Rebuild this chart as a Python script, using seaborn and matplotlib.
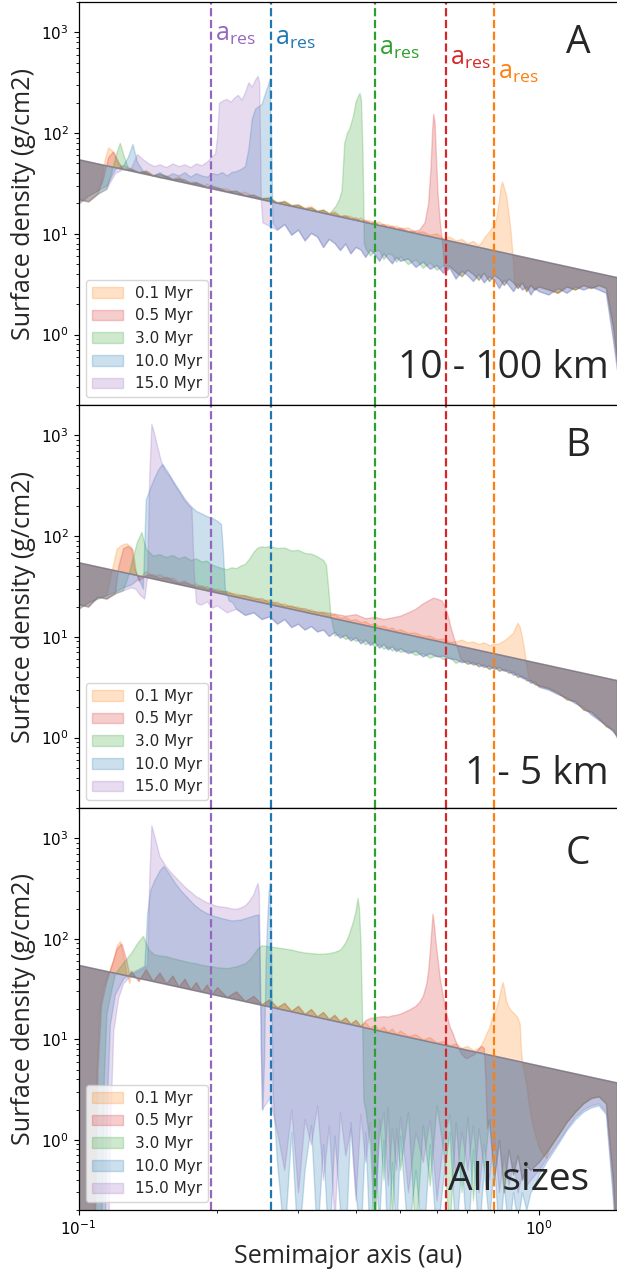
import numpy as np
import matplotlib
matplotlib.use("Agg")
import matplotlib.pyplot as plt
import seaborn as sns

# ---------------- data ----------------
TIMES = ["0.1 Myr", "0.5 Myr", "3.0 Myr", "10.0 Myr", "15.0 Myr"]
PALETTE_IDX = [1, 3, 2, 0, 4]          # tab10: orange, red, green, blue, purple
A_RES = [0.801, 0.629, 0.440, 0.262, 0.194]   # resonance location for each time (au)
PANEL_TAGS = ["A", "B", "C"]
PANEL_SIZES = ["10 - 100 km", "1 - 5 km", "All sizes"]

# initial power-law disc profile: Sigma = SIGMA_1AU * a**SIGMA_POWER
SIGMA_1AU = 5.5
SIGMA_POWER = -1.0

# common sampling grid (au)
G = [0.100, 0.105, 0.110, 0.115, 0.120, 0.125, 0.130, 0.135, 0.140, 0.145,
     0.150, 0.155, 0.160, 0.165, 0.170, 0.175, 0.180, 0.185, 0.190, 0.195,
     0.20, 0.21, 0.22, 0.23, 0.24, 0.25, 0.26, 0.27, 0.28, 0.29,
     0.30, 0.31, 0.32, 0.33, 0.34, 0.35, 0.36, 0.37, 0.38, 0.39,
     0.40, 0.41, 0.42, 0.43, 0.44, 0.45, 0.46, 0.47, 0.48, 0.49,
     0.50, 0.52, 0.54, 0.56, 0.58, 0.60, 0.62, 0.64, 0.66, 0.68,
     0.70, 0.72, 0.74, 0.76, 0.78, 0.80, 0.82, 0.84, 0.86, 0.88,
     0.90, 0.92, 0.94, 0.96, 0.98, 1.00, 1.05, 1.10, 1.15, 1.20,
     1.25, 1.30, 1.35, 1.40, 1.45, 1.48]

# ---- Panel A (10 - 100 km) backgrounds ----
A_NEAR_START = 0.100
A_NEAR = [20, 24, 27, 30, 44, 48, 45, 41, 43, 39,
          36, 38.3, 35, 37.3, 32.4, 33, 32.7, 29.5, 31.5, 28.8,
          28.6, 28.3, 25, 26.3, 23.4, 22.9, 22.9, 20.2, 21.4, 19.4,
          19.6, 18.2, 18.9, 16.9, 17.3, 16.2, 16.8, 15.1, 15.2, 15.1,
          13.8, 14.6, 13.4, 13.7, 12.7, 13.3, 12.2, 12.5, 11.7, 12.1,
          11.3, 11.6, 10.4, 10.6, 9.8, 10.1, 9.1, 9.4, 8.6, 8.9,
          8.1, 8.5, 7.7, 8.0, 7.4, 7.7, 7.0, 7.2]
A_NEAR2_START = 0.100
A_NEAR2 = [22, 21, 25, 28, 40, 44, 44, 41, 42, 38,
           39.5, 37.5, 35, 35.5, 34.5, 32, 32.5, 31, 29, 30,
           29, 26.5, 26.8, 24, 24.5, 22.5, 22.8, 20.6, 21, 19.2,
           19.5, 17.9, 18.3, 16.9, 17.4, 15.9, 16.2, 15.1, 15.3, 14.3,
           14.6, 13.5, 13.8, 12.9, 13.3, 12.3, 12.6, 11.8, 12.1, 11.3,
           11.6, 10.7, 10.8]
A_LOW_START = 0.24
A_LOW = [13, 12.5, 12, 11, 12.5, 9.8,
         11, 8.6, 10.2, 9.4, 7.4, 8.9, 8.1, 6.9, 8.0, 6.4,
         7.4, 7.0, 5.9, 7.0, 6.3, 5.4, 6.4, 5.7, 5.1, 5.9,
         5.4, 5.7, 4.7, 5.3, 4.5, 4.9, 4.1, 4.6, 3.6, 4.3,
         3.9, 3.4, 4.0, 3.3, 3.8, 3.5, 2.9, 3.5, 3.1, 2.7,
         3.2, 2.8, 3.0, 2.5, 2.9, 2.7, 2.5, 2.9, 2.6, 3.0,
         2.8, 3.0, 2.8, 2.6, 0.9, 0.45]
A_LOW2_START = 0.42
A_LOW2 = [7.2, 6.1, 6.8, 6.9, 5.6, 6.4, 6.2, 5.3,
          6.0, 5.0, 5.6, 4.6, 5.2, 4.4, 4.9, 4.8, 4.2, 3.8,
          4.4, 4.0, 3.5, 4.1, 3.4, 3.9, 3.6, 3.1, 3.6, 3.3,
          2.9, 3.3, 2.7, 3.1, 2.8, 3.0, 2.8, 2.6, 3.0, 2.8,
          3.1, 2.9, 3.1, 2.9, 1.2, 0.55]

A_OR_X1 = [0.112, 0.114, 0.116, 0.118, 0.120, 0.122, 0.124]
A_OR_Y1 = [33, 55, 72, 68, 58, 50, 47]
A_OR_X2 = [0.75, 0.765, 0.78, 0.79, 0.80, 0.81, 0.82, 0.827, 0.833, 0.84, 0.85, 0.86, 0.87, 0.878, 0.885]
A_OR_Y2 = [8.2, 9.5, 10.5, 11.5, 12, 15, 22, 30, 33, 29, 24, 16, 10, 6, 3.2]
A_RD_X1 = [0.113, 0.116, 0.119, 0.122, 0.124]
A_RD_Y1 = [35, 58, 66, 52, 46]
A_RD_X2 = [0.55, 0.565, 0.575, 0.582, 0.587, 0.59, 0.594, 0.598, 0.603, 0.61, 0.617, 0.623]
A_RD_Y2 = [11, 13, 20, 45, 110, 155, 130, 60, 25, 13, 8, 4.3]
A_GR_X1 = [0.118, 0.121, 0.123, 0.125, 0.128]
A_GR_Y1 = [42, 65, 80, 62, 45]
A_GR_X2 = [0.355, 0.362, 0.368, 0.373, 0.378, 0.383, 0.388, 0.395, 0.40, 0.405, 0.408, 0.411, 0.414, 0.417]
A_GR_Y2 = [17, 19, 22, 27, 80, 100, 112, 150, 205, 235, 250, 215, 70, 8]
A_BL_X = [0.128, 0.131, 0.134, 0.138, 0.145, 0.15, 0.155, 0.16, 0.165, 0.17, 0.175,
          0.18, 0.185, 0.19, 0.195, 0.20, 0.205, 0.21, 0.215, 0.22, 0.225, 0.23,
          0.234, 0.238, 0.242, 0.246, 0.25, 0.255, 0.258, 0.26, 0.262, 0.264]
A_BL_Y = [58, 78, 52, 42, 38, 41, 37, 40, 38, 41, 37,
          40, 38, 37, 40, 39, 41, 38, 41, 42, 44, 47,
          70, 140, 175, 185, 195, 260, 300, 345, 100, 13]
A_PU_X = [0.13, 0.134, 0.138, 0.142, 0.146, 0.15, 0.155, 0.16, 0.165, 0.17, 0.175,
          0.18, 0.185, 0.19, 0.194, 0.198, 0.2, 0.202, 0.206, 0.21, 0.214, 0.218,
          0.222, 0.226, 0.23, 0.234, 0.238, 0.242, 0.245, 0.247, 0.249, 0.251]
A_PU_Y = [45, 62, 55, 50, 47, 49, 46, 50, 47, 49, 46,
          50, 48, 52, 58, 63, 90, 200, 212, 218, 205, 225,
          240, 215, 255, 320, 290, 340, 370, 320, 22, 13]

# ---- Panel B (1 - 5 km) backgrounds ----
B_NEAR_START = 0.100
B_NEAR = [19, 22, 24, 26, 28, 31, 33, 38, 45, 40,
          42, 38, 39, 35, 36.5, 32.5, 34, 31, 32, 29,
          30, 27.5, 27, 25.5, 25, 23, 23.5, 21, 21.5, 19.8,
          20, 18.3, 18.8, 17.4, 17.5, 16.4, 16.8, 15.5, 15.8, 14.7,
          15.0, 14.0, 14.3, 13.3, 13.6, 12.7, 13.0, 12.1, 12.4, 11.6,
          11.9, 11.0, 11.0, 10.2, 10.3, 9.5, 9.6, 8.9]
B_NEAR2_START = 0.100
B_NEAR2 = [21, 20, 25, 24, 27, 29, 31, 36, 41, 42,
           38, 39.5, 36.5, 34.5, 35, 33.5, 31.5, 32.5, 30, 30.5,
           28.5, 28.5, 25.8, 26, 24, 24.2, 22, 22.2, 20.3, 20.5,
           19.2, 19.3, 18, 17.9]
B_LOW_START = 0.180
B_LOW = [23, 21, 22.5, 19.5,
         20.5, 17.5, 19, 16.5, 17.5, 15, 16, 13.5, 15, 12.5,
         13.5, 11.8, 12.8, 11.3, 11.8, 10.2, 11.2, 9.8, 10.5, 9.2,
         9.9, 8.6, 9.4, 8.3, 8.9, 7.8, 8.5, 7.5, 8.1, 7.2,
         7.7, 6.9, 7.3, 6.4, 6.9, 6.4, 6.5, 6.1, 6.0, 5.6,
         5.8, 5.3, 5.5, 5.0, 5.2, 4.8, 5.0, 4.6, 4.7, 4.2,
         4.3, 3.9, 3.9, 3.5, 3.6, 3.2, 3.0, 2.7, 2.5, 2.2,
         2.0, 1.7, 1.5, 1.35, 1.15, 1.05]
B_LOW2_START = 0.36
B_LOW2 = [10.3, 10.6, 9.5, 9.9, 9.1, 9.4, 8.4, 8.9, 8.0, 8.5, 7.6, 8.0, 7.3, 7.7,
          7.1, 7.3, 6.6, 6.9, 6.2, 6.6, 6.0, 6.3, 5.5, 5.9,
          5.4, 5.6, 5.1, 5.3, 4.8, 5.1, 4.6, 4.8, 4.4, 4.5,
          4.0, 4.1, 3.7, 3.7, 3.4, 3.3, 3.1, 2.8, 2.4, 2.3,
          1.9, 1.8, 1.55, 1.3, 1.2, 1.0]

B_OR_X1 = [0.118, 0.121, 0.124, 0.127, 0.130, 0.132]
B_OR_Y1 = [45, 75, 82, 85, 78, 48]
B_OR_X2 = [0.66, 0.68, 0.70, 0.72, 0.74, 0.76, 0.78, 0.80, 0.82, 0.84, 0.86, 0.88,
           0.89, 0.90, 0.91, 0.92, 0.93, 0.94, 0.95]
B_OR_Y2 = [9.0, 9.4, 8.8, 9.0, 8.5, 8.8, 8.3, 8.5, 8.6, 9.2, 10.0, 11,
           12.5, 13.8, 12.5, 10, 7.5, 5.2, 4.0]
B_RD_X1 = [0.122, 0.125, 0.128, 0.131, 0.133]
B_RD_Y1 = [50, 76, 80, 74, 46]
B_RD_X2 = [0.345, 0.36, 0.38, 0.40, 0.42, 0.44, 0.46, 0.48, 0.50, 0.52, 0.54, 0.56,
           0.575, 0.59, 0.60, 0.615, 0.625, 0.635, 0.645, 0.655, 0.665, 0.675]
B_RD_Y2 = [17.5, 17, 16.2, 16.8, 15.3, 15.8, 15, 15.6, 16.2, 17.5, 19, 21.5,
           23, 24.5, 24, 23, 20, 16, 12, 9.5, 7.8, 6.2]
B_GR_X = [0.128, 0.131, 0.134, 0.137, 0.14, 0.145, 0.15, 0.155, 0.16, 0.165, 0.17,
          0.175, 0.18, 0.185, 0.19, 0.195, 0.20, 0.205, 0.21, 0.215, 0.22, 0.225,
          0.23, 0.235, 0.24, 0.245, 0.25, 0.255, 0.26, 0.27, 0.28, 0.29, 0.30,
          0.31, 0.32, 0.33, 0.34, 0.345, 0.349, 0.353]
B_GR_Y = [40, 60, 88, 110, 75, 64, 66, 62, 65, 60, 63,
          58, 60, 56, 57, 52, 50, 48, 47, 49, 48, 51,
          53, 60, 70, 77, 79, 78, 80, 76, 77, 72, 73,
          68, 67, 63, 58, 52, 30, 16]
B_BL_X = [0.138, 0.14, 0.143, 0.146, 0.149, 0.152, 0.156, 0.16, 0.165, 0.17, 0.175,
          0.18, 0.185, 0.19, 0.195, 0.20, 0.204, 0.206, 0.208, 0.212, 0.216]
B_BL_Y = [30, 230, 300, 380, 460, 520, 440, 360, 290, 235, 200,
          178, 168, 158, 152, 142, 132, 70, 30, 23, 22]
B_PU_X = [0.133, 0.136, 0.139, 0.141, 0.1425, 0.144, 0.146, 0.148, 0.151, 0.154,
          0.158, 0.162, 0.166, 0.17, 0.174, 0.176, 0.178, 0.18, 0.183]
B_PU_Y = [30, 26, 24, 40, 400, 1300, 1050, 800, 560, 450,
          390, 320, 270, 225, 200, 190, 45, 22, 21]

# ---- Panel C (all sizes) backgrounds ----
C_NEAR_START = 0.130
C_NEAR = [48, 38, 50, 38,
          46, 36, 43, 33.5, 40, 31.5, 37, 29.8, 35, 28.3,
          33, 26.3, 30, 24, 27, 22.3, 25, 20.8, 23, 19.2,
          21.5, 17.9, 20, 16.9, 18.7, 15.9, 17.5, 15.1, 16.5, 14.3,
          15.6, 13.6, 14.8, 13.0, 14.0, 12.4, 13.4, 11.9, 12.8, 11.4,
          12.2, 10.8, 11.2, 10.0, 10.5, 9.3, 9.6, 8.7, 9.1, 8.2,
          8.6, 7.8, 8.1, 7.3]
C_GAP1_START = 0.25
C_GAP1 = [0.8, 2.6, 1.2, 0.5, 2.0, 0.3, 1.6, 0.9, 2.2, 0.4, 1.4, 0.15, 1.9, 0.7, 1.3,
          0.25, 1.8, 0.6, 1.5, 0.2, 1.1, 1.9, 0.35, 1.3, 0.5,
          1.7, 0.3, 1.2, 0.6, 1.6, 0.25, 1.0, 1.8, 0.4, 1.2, 0.5, 1.4, 0.3, 0.9, 0.4,
          1.1, 0.3, 0.7, 0.35, 0.6, 0.3, 0.45, 0.35, 0.4, 0.45,
          0.5, 0.7, 0.95, 1.3, 1.7, 2.0, 2.2, 2.3, 1.9, 0.3, 0.05]
C_GAP2_START = 0.27
C_GAP2 = [0.6, 0.1, 1.2, 0.08, 0.5, 1.4, 0.1, 0.9, 0.07, 1.1, 0.2, 0.08, 1.5, 0.3,
          0.1, 1.2, 0.08, 0.7, 0.15, 1.0, 0.07, 0.6, 0.1,
          1.1, 0.1, 0.5, 0.08, 0.9, 0.1, 0.4, 1.2, 0.1, 0.6, 0.08, 0.8, 0.1, 0.5, 0.15,
          0.6, 0.1, 0.35, 0.12, 0.3, 0.15, 0.3, 0.2, 0.3, 0.35,
          0.45, 0.65, 0.9, 1.25, 1.6, 1.9, 2.1, 2.2, 1.8, 0.25, 0.05]
C_GAP3_START = 0.42
C_GAP3 = [2.0, 0.9, 0.1, 1.6, 0.4, 2.1, 0.15, 1.3,
          0.5, 1.9, 0.1, 1.4, 0.35, 2.2, 0.8, 0.12, 1.5, 0.3, 1.7, 0.25, 1.3, 0.5,
          1.6, 0.4, 1.0, 0.3, 0.8, 0.45, 0.7, 0.4, 0.55, 0.5, 0.55,
          0.6, 0.8, 1.1, 1.5, 1.9, 2.3, 2.6, 2.7, 2.3, 0.4, 0.08]

C_OR_X1 = [0.1, 0.107, 0.108, 0.1095, 0.111, 0.113, 0.116, 0.119, 0.121, 0.123, 0.125, 0.127, 0.129]
C_OR_Y1 = [0.05, 0.05, 0.1, 5, 20, 32, 45, 62, 85, 95, 70, 45, 36]
C_OR_X2 = [0.74, 0.75, 0.76, 0.77, 0.78, 0.79, 0.80, 0.81, 0.82, 0.83, 0.835, 0.84,
           0.85, 0.86, 0.87, 0.88, 0.89, 0.90, 0.91, 0.915, 0.92, 0.93, 0.94, 0.95,
           0.96, 0.97, 0.98, 0.99, 1.0, 1.02, 1.04]
C_OR_Y2 = [8.2, 8.8, 10, 11.5, 13, 16, 18, 21, 26, 34, 37, 33,
           24, 21, 19.5, 18.5, 17.5, 16.5, 14, 8, 6, 4.6, 3.5, 2.4,
           1.8, 1.4, 1.15, 1.0, 0.85, 0.72, 0.66]
C_RD_X1 = [0.1, 0.1075, 0.1085, 0.110, 0.112, 0.115, 0.118, 0.121, 0.124, 0.127, 0.129]
C_RD_Y1 = [0.05, 0.05, 0.1, 5, 22, 38, 55, 80, 90, 62, 44]
C_RD_X2 = [0.415, 0.42, 0.43, 0.44, 0.45, 0.46, 0.47, 0.48, 0.49, 0.50, 0.52, 0.54,
           0.55, 0.56, 0.57, 0.575, 0.58, 0.585, 0.588, 0.592, 0.596, 0.60, 0.605,
           0.61, 0.62, 0.63, 0.64, 0.65, 0.66, 0.67, 0.68, 0.69, 0.70, 0.71, 0.72,
           0.73, 0.74, 0.75, 0.76, 0.766, 0.772]
C_RD_Y2 = [14.5, 15.5, 16.3, 16.5, 16.8, 17, 16.8, 17.3, 17.5, 18, 19.5, 21.5,
           23.5, 27, 36, 48, 75, 130, 178, 140, 100, 76, 55,
           40, 26, 18, 13.5, 11.5, 9.5, 8, 7.1, 6.6, 6.5, 6.8, 7.0,
           7.4, 8.1, 8.6, 8.2, 4, 1.3]
C_GR_X = [0.1, 0.111, 0.112, 0.1135, 0.115, 0.118, 0.12, 0.125, 0.13, 0.134, 0.138,
          0.142, 0.146, 0.15, 0.155, 0.16, 0.165, 0.17, 0.175, 0.18, 0.185, 0.19,
          0.195, 0.20, 0.21, 0.22, 0.23, 0.235, 0.24, 0.245, 0.25, 0.26, 0.27, 0.28,
          0.29, 0.30, 0.31, 0.32, 0.33, 0.34, 0.35, 0.36, 0.37, 0.375, 0.38, 0.385,
          0.39, 0.395, 0.40, 0.404, 0.407, 0.41, 0.413, 0.416]
C_GR_Y = [0.05, 0.05, 0.1, 4, 18, 32, 45, 58, 72, 90, 107,
          78, 70, 68, 67, 64, 62, 60, 58, 57, 55, 54,
          53, 52, 51, 53, 57, 62, 70, 80, 86, 84, 82, 80,
          78, 75, 73, 72, 71, 71, 72, 74, 78, 84, 92, 105,
          125, 150, 190, 255, 200, 90, 20, 2.5]
C_BL_X = [0.1, 0.113, 0.114, 0.1155, 0.117, 0.12, 0.125, 0.13, 0.135, 0.139, 0.141,
          0.143, 0.146, 0.15, 0.153, 0.157, 0.162, 0.167, 0.172, 0.178, 0.184, 0.19,
          0.196, 0.205, 0.215, 0.225, 0.235, 0.242, 0.246, 0.2475, 0.249, 0.251,
          0.253, 0.255, 0.257, 0.259, 0.2605, 0.262, 0.264]
C_BL_Y = [0.05, 0.05, 0.1, 3, 14, 28, 40, 46, 50, 54, 180,
          300, 380, 480, 530, 450, 360, 300, 260, 220, 195, 180,
          170, 160, 152, 155, 165, 172, 175, 60, 8, 2,
          6, 60, 150, 300, 360, 120, 3]
C_PU_X = [0.1, 0.115, 0.116, 0.1175, 0.119, 0.122, 0.125, 0.13, 0.135, 0.139, 0.141,
          0.1425, 0.144, 0.147, 0.15, 0.155, 0.16, 0.17, 0.18, 0.19, 0.20, 0.21,
          0.215, 0.22, 0.225, 0.23, 0.235, 0.24, 0.243, 0.245, 0.2465, 0.248, 0.25]
C_PU_Y = [0.05, 0.05, 0.1, 2, 12, 26, 36, 44, 48, 52, 55,
          400, 1350, 950, 660, 520, 440, 330, 265, 230, 212, 206,
          200, 198, 205, 215, 240, 280, 330, 360, 300, 40, 2]

# ---------------- assembly ----------------
def bg(start, vals):
    i0 = G.index(start)
    return G[i0:i0 + len(vals)], vals

BG = {
    "A": {"near": bg(A_NEAR_START, A_NEAR), "near2": bg(A_NEAR2_START, A_NEAR2),
          "low": bg(A_LOW_START, A_LOW), "low2": bg(A_LOW2_START, A_LOW2)},
    "B": {"near": bg(B_NEAR_START, B_NEAR), "near2": bg(B_NEAR2_START, B_NEAR2),
          "low": bg(B_LOW_START, B_LOW), "low2": bg(B_LOW2_START, B_LOW2)},
    "C": {"near": bg(C_NEAR_START, C_NEAR), "gap1": bg(C_GAP1_START, C_GAP1),
          "gap2": bg(C_GAP2_START, C_GAP2), "gap3": bg(C_GAP3_START, C_GAP3)},
}

PIECES = {
    "A": [
        [("near", 0.100, 0.110), (A_OR_X1, A_OR_Y1), ("near", 0.125, 0.745), (A_OR_X2, A_OR_Y2), ("low2", 0.90, 1.48)],
        [("near2", 0.100, 0.110), (A_RD_X1, A_RD_Y1), ("near2", 0.125, 0.545), (A_RD_X2, A_RD_Y2), ("low2", 0.64, 1.48)],
        [("near2", 0.100, 0.115), (A_GR_X1, A_GR_Y1), ("near2", 0.130, 0.350), (A_GR_X2, A_GR_Y2), ("low2", 0.42, 1.48)],
        [("near", 0.100, 0.125), (A_BL_X, A_BL_Y), ("low", 0.27, 1.48)],
        [("near2", 0.100, 0.125), (A_PU_X, A_PU_Y), ("low", 0.26, 1.48)],
    ],
    "B": [
        [("near", 0.100, 0.115), (B_OR_X1, B_OR_Y1), ("near", 0.135, 0.64), (B_OR_X2, B_OR_Y2), ("low2", 0.96, 1.48)],
        [("near2", 0.100, 0.120), (B_RD_X1, B_RD_Y1), ("near2", 0.135, 0.33), (B_RD_X2, B_RD_Y2), ("low2", 0.68, 1.48)],
        [("near2", 0.100, 0.125), (B_GR_X, B_GR_Y), ("low2", 0.36, 1.48)],
        [("near", 0.100, 0.135), (B_BL_X, B_BL_Y), ("low", 0.22, 1.48)],
        [("near2", 0.100, 0.130), (B_PU_X, B_PU_Y), ("low", 0.185, 1.48)],
    ],
    "C": [
        [(C_OR_X1, C_OR_Y1), ("near", 0.130, 0.72), (C_OR_X2, C_OR_Y2), ("gap3", 1.05, 1.48)],
        [(C_RD_X1, C_RD_Y1), ("near", 0.130, 0.41), (C_RD_X2, C_RD_Y2), ("gap3", 0.78, 1.48)],
        [(C_GR_X, C_GR_Y), ("gap3", 0.42, 1.48)],
        [(C_BL_X, C_BL_Y), ("gap2", 0.27, 1.48)],
        [(C_PU_X, C_PU_Y), ("gap1", 0.26, 1.48)],
    ],
}


def assemble(pieces, bgs):
    pts = []
    for p in pieces:
        if isinstance(p[0], str):
            name, lo, hi = p
            bx, by = bgs[name]
            pts += [(x, y) for x, y in zip(bx, by) if lo - 1e-9 <= x <= hi + 1e-9]
        else:
            pts += list(zip(p[0], p[1]))
    pts.sort()
    x = np.array([p[0] for p in pts])
    y = np.array([p[1] for p in pts])
    return x, y

# ---------------- style ----------------
sns.set_style("ticks")
plt.rcParams.update({
    "font.family": ["DejaVu Sans"],
    "axes.edgecolor": "black",
    "axes.linewidth": 0.9,
    "xtick.color": "black",
    "ytick.color": "black",
    "xtick.labelsize": 11,
    "ytick.labelsize": 11,
    "xtick.direction": "out",
    "ytick.direction": "out",
})
pal = sns.color_palette("tab10")
colors = [pal[i] for i in PALETTE_IDX]

fig = plt.figure(figsize=(6.17, 12.7), dpi=100)
left = 78.5 / 617
width = 1.0 - left
rects = [[left, 1 - 405 / 1270, width, 403 / 1270],
         [left, 1 - 808 / 1270, width, 403 / 1270],
         [left, 1 - 1210 / 1270, width, 402 / 1270]]

label_font = "Open Sans"
tag_y = [0.898, 0.898, 0.885]
size_pos = [(0.985, 0.092), (0.985, 0.085), (0.948, 0.075)]
ares_y = [0.809, 0.844, 0.868, 0.893, 0.903]

axes = []
for k, key in enumerate(["A", "B", "C"]):
    ax = fig.add_axes(rects[k], sharex=axes[0] if axes else None)
    axes.append(ax)
    ax.set_xscale("log")
    ax.set_yscale("log")
    for i, pieces in enumerate(PIECES[key]):
        x, y = assemble(pieces, BG[key])
        ref = SIGMA_1AU * x ** SIGMA_POWER
        ax.fill_between(x, ref, y, color=colors[i], alpha=0.23, linewidth=1.0,
                        label=TIMES[i])
    for i, a in enumerate(A_RES):
        ax.axvline(a, color=colors[i], ls="--", lw=1.6)
    ax.set_xlim(0.1, 1.48)
    ax.set_ylim(0.2, 2000)
    ax.spines["right"].set_visible(False)
    ax.set_ylabel("Surface density (g/cm2)", fontsize=18, family=label_font)
    ax.legend(loc="lower left", fontsize=11)
    ax.text(0.928, tag_y[k], PANEL_TAGS[k], transform=ax.transAxes, fontsize=28,
            family=label_font, ha="center", va="center")
    ax.text(size_pos[k][0], size_pos[k][1], PANEL_SIZES[k], transform=ax.transAxes,
            fontsize=28, family=label_font, ha="right", va="center")
    if key == "A":
        for i, a in enumerate(A_RES):
            ax.annotate(r"a$_{\mathregular{res}}$", xy=(a, ares_y[i]),
                        xycoords=("data", "axes fraction"), xytext=(3, 0),
                        textcoords="offset points", color=colors[i],
                        fontsize=18, family=label_font, ha="left", va="baseline")
    if key != "C":
        ax.tick_params(labelbottom=False)

axes[-1].set_xlabel("Semimajor axis (au)", fontsize=18, family=label_font)

fig.savefig("out.png", dpi=100)
